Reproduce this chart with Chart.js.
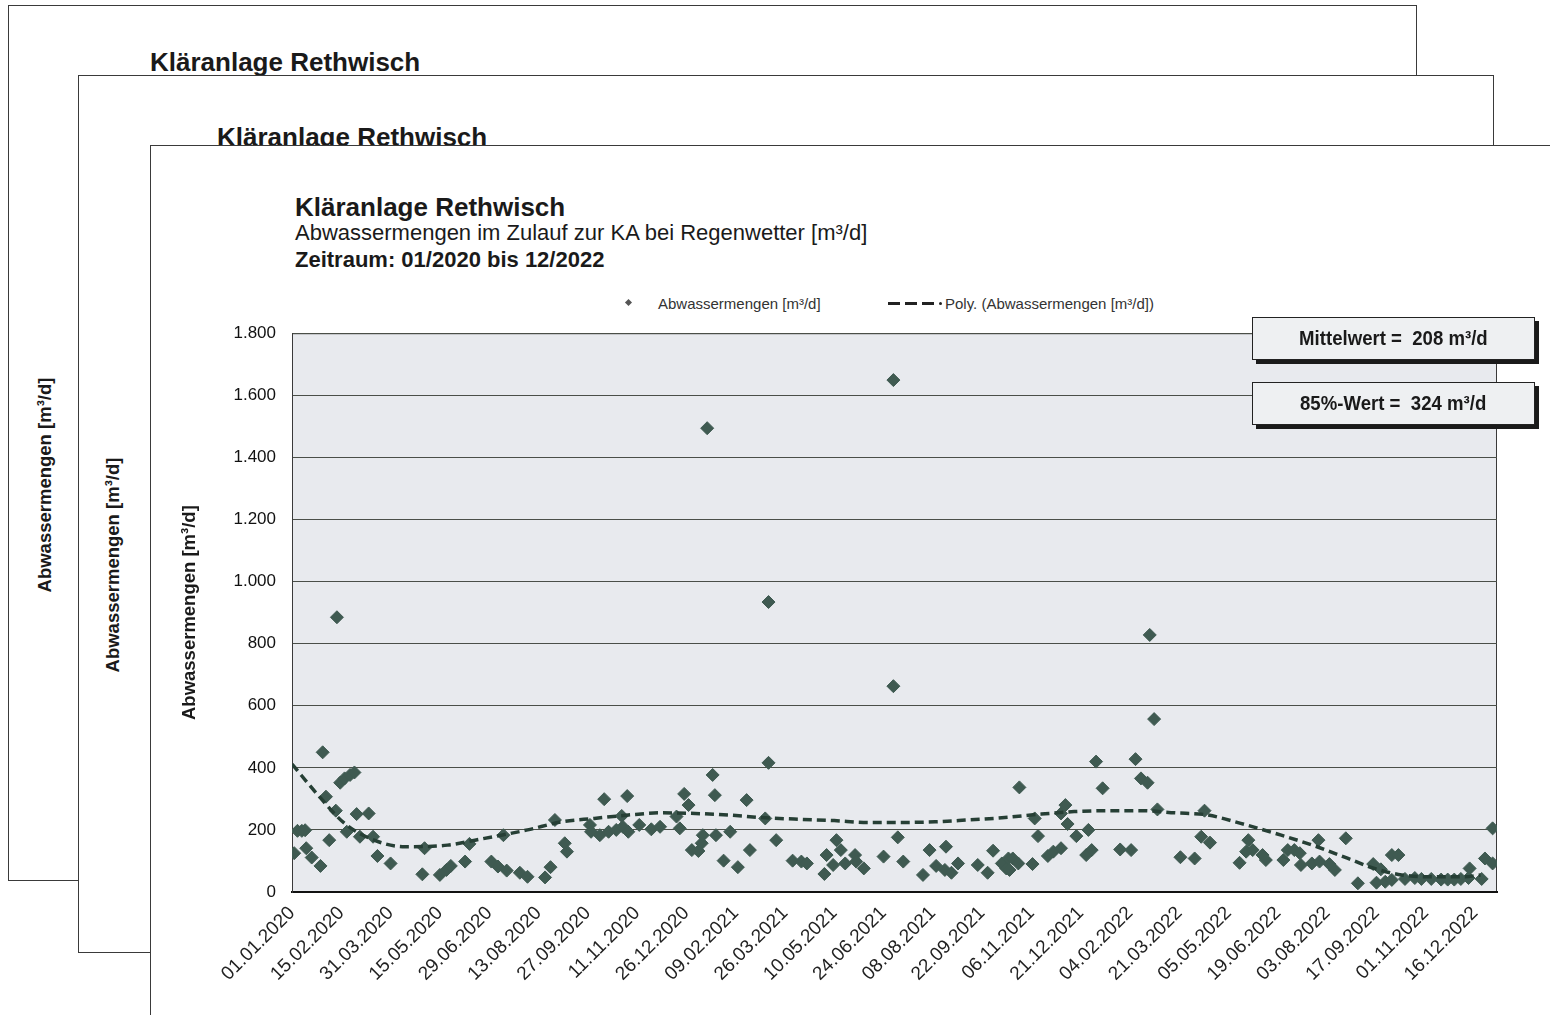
<!DOCTYPE html>
<html>
<head>
<meta charset="utf-8">
<script src="https://cdn.jsdelivr.net/npm/chart.js@4.4.1/dist/chart.umd.min.js"></script>
<style>
  body { margin: 0; width: 1550px; height: 1015px; overflow: hidden; background: #fff; position: relative;
         font-family: Arial, "Liberation Sans", sans-serif; color: #1a1a1a; }
  .page { position: absolute; background: #fff; border: 1px solid #3a3a3a; box-sizing: border-box; }
  .t { position: absolute; white-space: nowrap; line-height: 1; }
  .ptitle { font-weight: bold; font-size: 26px; }
  .ytitle { font-weight: bold; font-size: 18.5px; transform: translate(-50%, -50%) rotate(-90deg); }
  .box { position: absolute; left: 1252px; width: 283px; height: 43px; box-sizing: border-box; background: #eef0f2;
         border: 1px solid #222; box-shadow: 4px 4px 0 #1a1a1a; font-weight: bold; font-size: 20px;
         display: flex; align-items: center; justify-content: center; white-space: pre; }
  .box span { display: inline-block; transform: scaleX(0.93); }
  #chartBox { position: absolute; left: 150px; top: 320px; width: 1400px; height: 695px; }
</style>
</head>
<body>
<div class="page" style="left:8px;top:5px;width:1409px;height:876px"></div>
<div class="t ptitle" style="left:150px;top:49px">Kläranlage Rethwisch</div>
<div class="t ytitle" style="left:45px;top:485px">Abwassermengen [m³/d]</div>

<div class="page" style="left:78px;top:75px;width:1416px;height:878px"></div>
<div class="t ptitle" style="left:217px;top:124px">Kläranlage Rethwisch</div>
<div class="t ytitle" style="left:113px;top:565px">Abwassermengen [m³/d]</div>

<div class="page" style="left:150px;top:145px;width:1450px;height:900px"></div>
<div class="t" style="left:295px;top:194px;font-size:26px;font-weight:bold">Kläranlage Rethwisch</div>
<div class="t" style="left:295px;top:222px;font-size:22px">Abwassermengen im Zulauf zur KA bei Regenwetter [m³/d]</div>
<div class="t" style="left:295px;top:249px;font-size:22px;font-weight:bold">Zeitraum: 01/2020 bis 12/2022</div>

<div id="legend">
  <div style="position:absolute;left:626px;top:300px;width:5px;height:5px;background:#555;transform:rotate(45deg)"></div>
  <div class="t" style="left:658px;top:296px;font-size:15px;color:#333">Abwassermengen [m³/d]</div>
  <div style="position:absolute;left:888px;top:302px;width:47px;height:3px;background:repeating-linear-gradient(90deg,#222 0 12px,transparent 12px 17px)"></div>
  <div style="position:absolute;left:939px;top:302px;width:3px;height:3px;border-radius:50%;background:#222"></div>
  <div class="t" style="left:945px;top:296px;font-size:15px;color:#333">Poly. (Abwassermengen [m³/d])</div>
</div>

<div id="chartBox"><canvas id="myChart"></canvas></div>

<div class="box" style="top:317px"><span>Mittelwert =  208 m³/d</span></div>
<div class="box" style="top:382px"><span>85%-Wert =  324 m³/d</span></div>

<script>
// x values = days since 01.01.2020
const tickLabels = ['01.01.2020','15.02.2020','31.03.2020','15.05.2020','29.06.2020','13.08.2020','27.09.2020',
  '11.11.2020','26.12.2020','09.02.2021','26.03.2021','10.05.2021','24.06.2021','08.08.2021','22.09.2021',
  '06.11.2021','21.12.2021','04.02.2022','21.03.2022','05.05.2022','19.06.2022','03.08.2022','17.09.2022',
  '01.11.2022','16.12.2022'];

const pointDays = [2,5,9,12,13,18,26,28,31,34,40,41,44,48,50,53,57,59,62,70,74,78,90,119,121,135,141,145,158,162,
  182,188,193,196,208,215,231,236,240,249,251,272,273,281,285,289,296,301,302,306,307,317,328,336,351,354,358,362,
  365,371,374,375,379,384,386,387,394,400,407,415,418,432,435,435,442,457,465,470,486,488,494,497,501,505,514,515,
  522,540,549,549,553,558,576,582,588,596,597,602,608,626,635,640,648,652,654,655,658,663,664,676,678,681,690,695,
  702,702,706,708,716,725,727,730,734,740,756,766,770,775,781,783,787,790,811,824,830,833,838,865,871,873,877,886,
  889,905,909,915,920,921,931,937,938,947,952,962,973,987,990,994,998,1004,1004,1010,1016,1025,1031,1040,1049,1055,
  1061,1067,1074,1075,1086,1089,1096,1096];
const pointValues = [125,197,197,199,141,111,84,450,307,167,262,885,352,366,194,377,385,251,178,253,178,116,92,57,141,
  55,71,84,98,155,98,82,183,69,62,49,47,80,232,157,130,216,194,183,299,194,200,245,210,309,194,216,202,210,243,205,
  316,280,135,132,157,183,1494,377,312,183,101,194,80,296,135,237,416,934,167,101,98,92,58,119,87,167,135,92,119,98,
  76,114,1649,663,176,98,55,135,84,71,146,62,92,87,62,133,92,76,108,71,108,92,337,90,237,180,116,130,253,141,280,219,
  180,119,200,135,420,334,137,135,428,366,352,828,557,266,112,108,178,262,159,94,130,167,135,119,103,103,135,135,125,
  87,92,167,98,90,71,173,28,90,30,73,33,39,119,119,42,45,42,42,40,40,40,42,45,76,42,108,92,205];

const trendDays = [0,26,48,75,103,142,167,191,215,246,276,307,337,368,398,428,465,495,526,556,587,617,648,684,714,745,
  775,806,836,866,882,903,934,964,988,1013,1040,1070,1085];
const trendValues = [412,303,221,167,146,151,167,183,200,226,237,248,255,253,248,240,234,230,224,224,226,232,239,251,
  259,262,262,255,248,221,205,183,148,108,76,55,49,49,55];

const yMax = 1800;
const xMax = 1100;

const dayOf = s => {
  const [d, m, y] = s.split('.').map(Number);
  return Math.round((Date.UTC(y, m - 1, d) - Date.UTC(2020, 0, 1)) / 86400000);
};
const tickDays = tickLabels.map(dayOf);

const fmtDE = v => v >= 1000 ? Math.floor(v / 1000) + '.' + String(v % 1000).padStart(3, '0') : String(v);

const plotBg = {
  id: 'plotBg',
  beforeDraw(chart) {
    const { ctx, chartArea: a } = chart;
    ctx.save();
    ctx.fillStyle = '#e8eaee';
    ctx.fillRect(a.left, a.top, a.right - a.left, a.bottom - a.top);
    ctx.strokeStyle = '#3a3a3a';
    ctx.lineWidth = 1;
    ctx.strokeRect(a.left + 0.5, a.top + 0.5, a.right - a.left - 1, a.bottom - a.top - 1);
    ctx.restore();
  }
};

Chart.defaults.font.family = 'Arial, "Liberation Sans", sans-serif';
Chart.defaults.color = '#1a1a1a';

new Chart(document.getElementById('myChart'), {
  type: 'scatter',
  data: {
    datasets: [
      {
        label: 'Abwassermengen [m³/d]',
        data: pointDays.map((d, i) => ({ x: d, y: pointValues[i] })),
        pointStyle: 'rectRot',
        pointRadius: 6.5,
        backgroundColor: '#3f5a51',
        borderColor: '#3f5a51',
        borderWidth: 1
      },
      {
        label: 'Poly. (Abwassermengen [m³/d])',
        data: trendDays.map((d, i) => ({ x: d, y: trendValues[i] })),
        showLine: true,
        pointRadius: 0,
        borderColor: '#263f35',
        borderWidth: 3.5,
        borderDash: [9, 5],
        cubicInterpolationMode: 'monotone',
        order: -1
      }
    ]
  },
  options: {
    responsive: true,
    maintainAspectRatio: false,
    animation: false,
    layout: { padding: { top: 13, right: 53, left: 0, bottom: 0 } },
    plugins: { legend: { display: false }, tooltip: { enabled: false } },
    scales: {
      x: {
        type: 'linear',
        min: 0,
        max: xMax,
        afterBuildTicks: s => { s.ticks = tickDays.map(v => ({ value: v })); },
        afterFit: s => { s.height = 123; },
        grid: { display: false, drawTicks: false },
        border: { display: true, color: '#111', width: 2 },
        ticks: {
          autoSkip: false, minRotation: 45, maxRotation: 45, padding: 10,
          font: { size: 19 }, color: '#222',
          callback: (v, i) => tickLabels[i]
        }
      },
      y: {
        min: 0,
        max: yMax,
        afterFit: s => { s.width = 142; },
        grid: { color: '#4a4f48', lineWidth: 1, drawTicks: true, tickLength: 13, tickColor: 'rgba(0,0,0,0)' },
        border: { display: true, color: '#3a3a3a' },
        ticks: { stepSize: 200, padding: 3, font: { size: 17 }, color: '#111', callback: v => fmtDE(v) },
        title: {
          display: true,
          text: 'Abwassermengen [m³/d]',
          font: { size: 18.5, weight: 'bold' },
          color: '#1a1a1a',
          padding: { top: 29, bottom: 0 }
        }
      }
    }
  },
  plugins: [plotBg]
});
</script>
</body>
</html>
